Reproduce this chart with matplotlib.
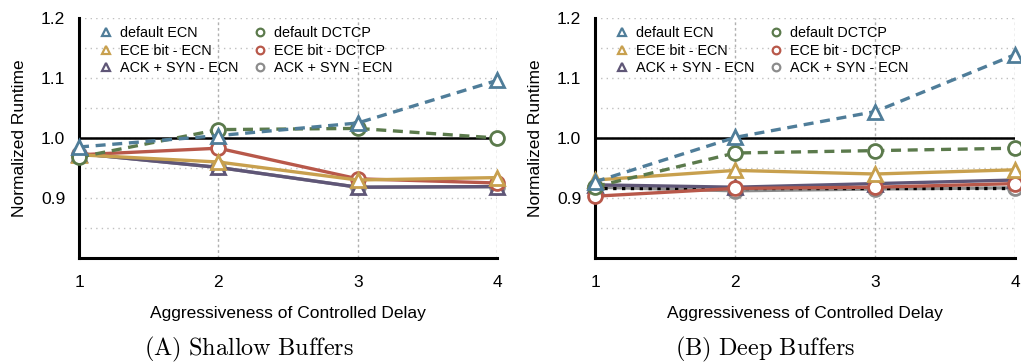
import numpy as np
import matplotlib
matplotlib.use('Agg')
import matplotlib.pyplot as plt
from matplotlib.lines import Line2D

plt.rcParams['font.family'] = ['Liberation Sans', 'DejaVu Sans']
plt.rcParams['mathtext.fontset'] = 'cm'

# Data
delay = [1, 2, 3, 4]
labels = ['default ECN', 'ECE bit - ECN', 'ACK + SYN - ECN',
          'default DCTCP', 'ECE bit - DCTCP', 'ACK + SYN - ECN']

shallow_default_ecn = [0.985, 1.004, 1.025, 1.096]
shallow_default_dctcp = [0.968, 1.014, 1.016, 1.000]
shallow_ece_ecn = [0.972, 0.960, 0.930, 0.934]
shallow_ece_dctcp = [0.972, 0.983, 0.932, 0.925]
shallow_acksyn_ecn = [0.974, 0.951, 0.918, 0.919]
shallow_acksyn_dctcp = [0.974, 0.951, 0.918, 0.919]

deep_default_ecn = [0.927, 1.001, 1.044, 1.139]
deep_default_dctcp = [0.919, 0.975, 0.979, 0.983]
deep_ece_ecn = [0.930, 0.946, 0.940, 0.947]
deep_ece_dctcp = [0.903, 0.916, 0.918, 0.924]
deep_acksyn_ecn = [0.922, 0.918, 0.924, 0.930]
deep_acksyn_dctcp = [0.918, 0.912, 0.915, 0.917]
deep_reference = 0.917

c_blue = '#4f7d99'
c_gold = '#c8a04e'
c_purple = '#5f5677'
c_green = '#5b7a4c'
c_red = '#b8584a'
c_grey = '#8c8c8c'


def draw_panel(ax, ecn, dctcp, ece_ecn, ece_dctcp, ack_ecn, ack_dctcp, ref=None):
    kw = dict(lw=2.4, ms=10, mew=2.0, mfc='white', clip_on=False)
    ax.axhline(1.0, color='black', lw=1.8, zorder=2)
    ax.plot(delay, ack_dctcp, color=c_grey, marker='o', zorder=3, **kw)
    if ref is not None:
        ax.plot([delay[0], delay[-1]], [ref, ref], color='black', ls=':', lw=2.4, zorder=4)
    ax.plot(delay, ack_ecn, color=c_purple, marker='^', zorder=5, **kw)
    ax.plot(delay, ece_dctcp, color=c_red, marker='o', zorder=6, **kw)
    ax.plot(delay, ece_ecn, color=c_gold, marker='^', zorder=7, **kw)
    ax.plot(delay, dctcp, color=c_green, marker='o', ls=(0, (3, 2)), zorder=8, **kw)
    ax.plot(delay, ecn, color=c_blue, marker='^', ls=(0, (3, 2)), zorder=9, **kw)

    ax.set_xlim(1, 4)
    ax.set_ylim(0.8, 1.2)
    ax.set_xticks(delay)
    ax.set_yticks([0.9, 1.0, 1.1, 1.2])
    ax.set_yticks([0.85, 0.95, 1.05, 1.15], minor=True)
    ax.tick_params(axis='both', which='both', length=0, labelsize=12.5)
    ax.tick_params(axis='x', pad=12)
    ax.tick_params(axis='y', pad=10)
    ax.grid(True, which='major', axis='x', color='#b0b0b0', ls=(0, (2, 2)), lw=1)
    ax.grid(True, which='both', axis='y', color='#c0c0c0', ls=(0, (1, 3)), lw=1)
    for s in ['top', 'right']:
        ax.spines[s].set_visible(False)
    for s in ['left', 'bottom']:
        ax.spines[s].set_linewidth(2.2)
    ax.set_xlabel('Aggressiveness of Controlled Delay', fontsize=12.5, labelpad=12)
    ax.set_ylabel('Normalized Runtime', fontsize=12.5, labelpad=10)

    colors = [c_blue, c_gold, c_purple, c_green, c_red, c_grey]
    markers = ['^', '^', '^', 'o', 'o', 'o']
    handles = [Line2D([], [], ls='none', marker=m, color=c, mfc='white', mew=1.6, ms=5.5)
               for m, c in zip(markers, colors)]
    ax.legend(handles, labels, ncol=2, frameon=False, loc='upper left',
              bbox_to_anchor=(0.015, 1.02), fontsize=10.4, handletextpad=0.5,
              columnspacing=1.0, labelspacing=0.25, handlelength=1.0)


fig = plt.figure(figsize=(10.21, 3.63), dpi=100)
ax1 = fig.add_axes([0.0774, 0.2893, 0.4094, 0.661])
ax2 = fig.add_axes([0.5828, 0.2893, 0.4114, 0.661])

draw_panel(ax1, shallow_default_ecn, shallow_default_dctcp, shallow_ece_ecn,
           shallow_ece_dctcp, shallow_acksyn_ecn, shallow_acksyn_dctcp)
draw_panel(ax2, deep_default_ecn, deep_default_dctcp, deep_ece_ecn,
           deep_ece_dctcp, deep_acksyn_ecn, deep_acksyn_dctcp, ref=deep_reference)

fig.text(0.244, 0.02, r'$\mathrm{(A)\ Shallow\ Buffers}$', ha='center', fontsize=17.5)
fig.text(0.749, 0.02, r'$\mathrm{(B)\ Deep\ Buffers}$', ha='center', fontsize=17.5)

fig.savefig('out.png', dpi=100)
